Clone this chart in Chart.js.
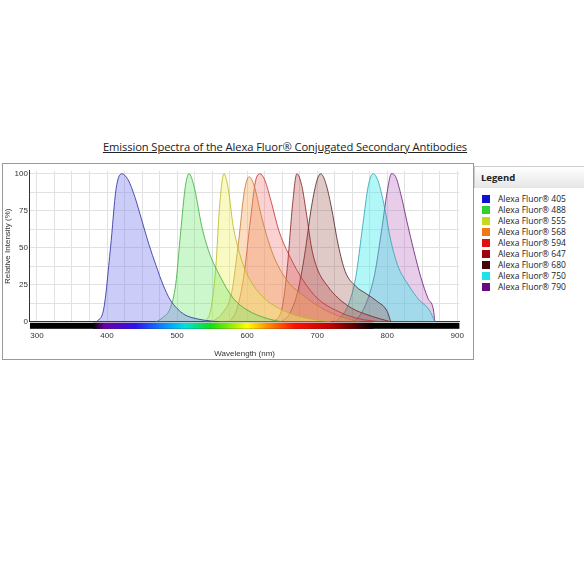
<!DOCTYPE html>
<html>
<head>
<meta charset="utf-8">
<script src="https://cdn.jsdelivr.net/npm/chart.js@4.4.1/dist/chart.umd.min.js"></script>
<style>
  body { margin: 0; background: #fff; font-family: "Open Sans", Arial, sans-serif; }
  #title { position: absolute; left: 0; top: 139px; width: 570px; text-align: center; font-size: 11.2px; color: #222; letter-spacing: -0.1px; }
  #title span { text-decoration: underline; }
  #box { position: absolute; left: 2px; top: 163px; width: 472px; height: 197px; border: 1px solid #999; box-sizing: border-box; }
  #legend { position: absolute; left: 474px; top: 166px; width: 110px; font-size: 8.5px; color: #222; }
  #legend .head { background: linear-gradient(#fff, #e6e6e6); font-weight: bold; font-size: 9.5px; padding: 4px 6px; border-top: 1px solid #ccc; border-left: 1px solid #ccc; }
  #legend .item { display: flex; align-items: center; height: 11px; padding-left: 8px; }
  #legend .sw { width: 8px; height: 8px; margin-right: 8px; }
</style>
</head>
<body>
<div id="title"><span>Emission Spectra of the Alexa Fluor® Conjugated Secondary Antibodies</span></div>
<div id="box"><canvas id="spectra"></canvas></div>
<div id="legend"><div class="head">Legend</div><div id="items" style="padding-top:5px"></div></div>
<script>
// DATA
var dyes = ['Alexa Fluor® 405', 'Alexa Fluor® 488', 'Alexa Fluor® 555', 'Alexa Fluor® 568', 'Alexa Fluor® 594',
            'Alexa Fluor® 647', 'Alexa Fluor® 680', 'Alexa Fluor® 750', 'Alexa Fluor® 790'];

var wl405 = [385, 395, 405, 413, 421, 430, 440, 450, 460, 470, 480, 490, 500, 510, 520, 540, 560];
var em405 = [0, 8, 50, 90, 100, 96, 84, 68, 52, 38, 25, 15, 9, 5, 3, 1, 0];
var wl488 = [470, 480, 490, 498, 505, 512, 517, 525, 535, 545, 560, 580, 600, 630, 650];
var em488 = [0, 3, 9, 25, 60, 92, 100, 90, 65, 48, 32, 16, 8, 2, 0];
var wl555 = [540, 548, 555, 561, 567, 573, 580, 590, 600, 620, 650, 690, 720];
var em555 = [0, 8, 35, 80, 100, 90, 65, 45, 32, 18, 8, 2, 0];
var wl568 = [550, 565, 578, 588, 596, 603, 610, 620, 630, 640, 660, 680, 700, 730, 760];
var em568 = [0, 6, 20, 55, 88, 98, 92, 72, 55, 42, 26, 18, 11, 4, 0];
var wl594 = [575, 585, 595, 605, 612, 618, 625, 635, 645, 660, 680, 700, 730, 760, 790];
var em594 = [0, 8, 30, 70, 95, 100, 96, 80, 62, 45, 28, 16, 7, 2, 0];
var wl647 = [630, 645, 652, 658, 665, 671, 678, 685, 692, 700, 715, 730, 750, 770, 790, 805];
var em647 = [0, 3, 15, 40, 80, 100, 92, 72, 50, 36, 24, 16, 9, 5, 2, 0];
var wl680 = [648, 660, 672, 682, 692, 700, 705, 712, 720, 730, 740, 755, 770, 785, 800, 805];
var em680 = [0, 5, 20, 45, 78, 96, 100, 94, 78, 52, 34, 24, 19, 14, 7, 0];
var wl750 = [725, 735, 745, 755, 765, 773, 780, 787, 795, 805, 815, 830, 845, 860, 868];
var em750 = [0, 4, 12, 30, 65, 92, 100, 95, 80, 55, 38, 25, 15, 8, 0];
var wl790 = [752, 762, 772, 782, 792, 800, 806, 812, 820, 828, 838, 848, 858, 866, 868];
var em790 = [0, 5, 15, 32, 62, 88, 100, 98, 85, 68, 48, 30, 16, 8, 0];

var yTicks = [0, 25, 50, 75, 100];
var xTicks = [300, 400, 500, 600, 700, 800, 900];

var lineColors = ['#2a2a9a', '#3caa3c', '#b8b820', '#c07830', '#c03030', '#802020', '#502020', '#30a0b0', '#602070'];
var fillColors = ['rgba(120,120,240,0.38)', 'rgba(100,230,100,0.33)', 'rgba(240,240,100,0.38)', 'rgba(245,165,90,0.38)',
                  'rgba(240,90,90,0.28)', 'rgba(180,60,60,0.3)', 'rgba(150,80,70,0.3)', 'rgba(70,235,235,0.42)', 'rgba(175,90,185,0.3)'];
var swatches = ['#1010d0', '#30d030', '#c8d820', '#f07818', '#e01010', '#a00010', '#400808', '#20e0e8', '#6a0a80'];

var wls = [wl405, wl488, wl555, wl568, wl594, wl647, wl680, wl750, wl790];
var ems = [em405, em488, em555, em568, em594, em647, em680, em750, em790];

var items = document.getElementById('items');
dyes.forEach(function(d, i) {
    items.innerHTML += '<div class="item"><div class="sw" style="background:' + swatches[i] + '"></div>' + d + '</div>';
});

var datasets = dyes.map(function(d, i) {
    return {
        label: d,
        data: wls[i].map(function(w, j) { return { x: w, y: ems[i][j] }; }),
        borderColor: lineColors[i],
        backgroundColor: fillColors[i],
        borderWidth: 0.8,
        pointRadius: 0,
        fill: 'origin',
        tension: 0.35,
        cubicInterpolationMode: 'monotone'
    };
});

// rainbow strip under the plot
var spectrumBar = {
    id: 'spectrumBar',
    afterDraw: function(c) {
        var x = c.scales.x, ctx = c.ctx, top = c.chartArea.bottom + 1;
        var x0 = x.getPixelForValue(290), x1 = x.getPixelForValue(903);
        var a = x.getPixelForValue(380), b = x.getPixelForValue(780);
        var g = ctx.createLinearGradient(a, 0, b, 0);
        var stops = [[0, '#000'], [0.04, '#6a00a0'], [0.15, '#3010f0'], [0.27, '#00a0ff'], [0.33, '#00e0e0'],
                     [0.42, '#10e010'], [0.5, '#a0f000'], [0.55, '#ffff00'], [0.62, '#ff9000'], [0.72, '#ff1000'],
                     [0.85, '#c00000'], [1, '#000']];
        stops.forEach(function(s) { g.addColorStop(s[0], s[1]); });
        ctx.save();
        ctx.fillStyle = '#000';
        ctx.fillRect(x0, top, x1 - x0, 6);
        ctx.fillStyle = g;
        ctx.fillRect(a, top, b - a, 6);
        ctx.restore();
    }
};

new Chart(document.getElementById('spectra'), {
    type: 'line',
    data: { datasets: datasets },
    options: {
        responsive: true,
        maintainAspectRatio: false,
        animation: false,
        layout: { padding: { top: 4, right: 7, left: 0, bottom: 0 } },
        plugins: { legend: { display: false }, tooltip: { enabled: false } },
        scales: {
            x: {
                type: 'linear', min: 290, max: 903,
                afterBuildTicks: function(s) {
                    var t = [];
                    for (var v = 300; v <= 900; v += 25) t.push({ value: v });
                    s.ticks = t;
                },
                ticks: {
                    font: { size: 8 }, color: '#333', maxRotation: 0, autoSkip: false, padding: 9,
                    callback: function(v) { return xTicks.indexOf(v) >= 0 ? v : ''; }
                },
                grid: { color: '#e2e2e2', drawTicks: false },
                border: { color: '#333' },
                title: { display: true, text: 'Wavelength (nm)', font: { size: 8 }, color: '#333', padding: 0 }
            },
            y: {
                min: 0, max: 102,
                afterBuildTicks: function(s) {
                    var t = [];
                    for (var v = 0; v <= 100; v += 12.5) t.push({ value: v });
                    s.ticks = t;
                },
                ticks: {
                    font: { size: 8 }, color: '#333', autoSkip: false, padding: 2,
                    callback: function(v) { return yTicks.indexOf(v) >= 0 ? v : ''; }
                },
                grid: { color: '#e2e2e2', drawTicks: false },
                border: { color: '#333' },
                title: { display: true, text: 'Relative Intensity (%)', font: { size: 8 }, color: '#333', padding: 0 }
            }
        }
    },
    plugins: [spectrumBar]
});
</script>
</body>
</html>
